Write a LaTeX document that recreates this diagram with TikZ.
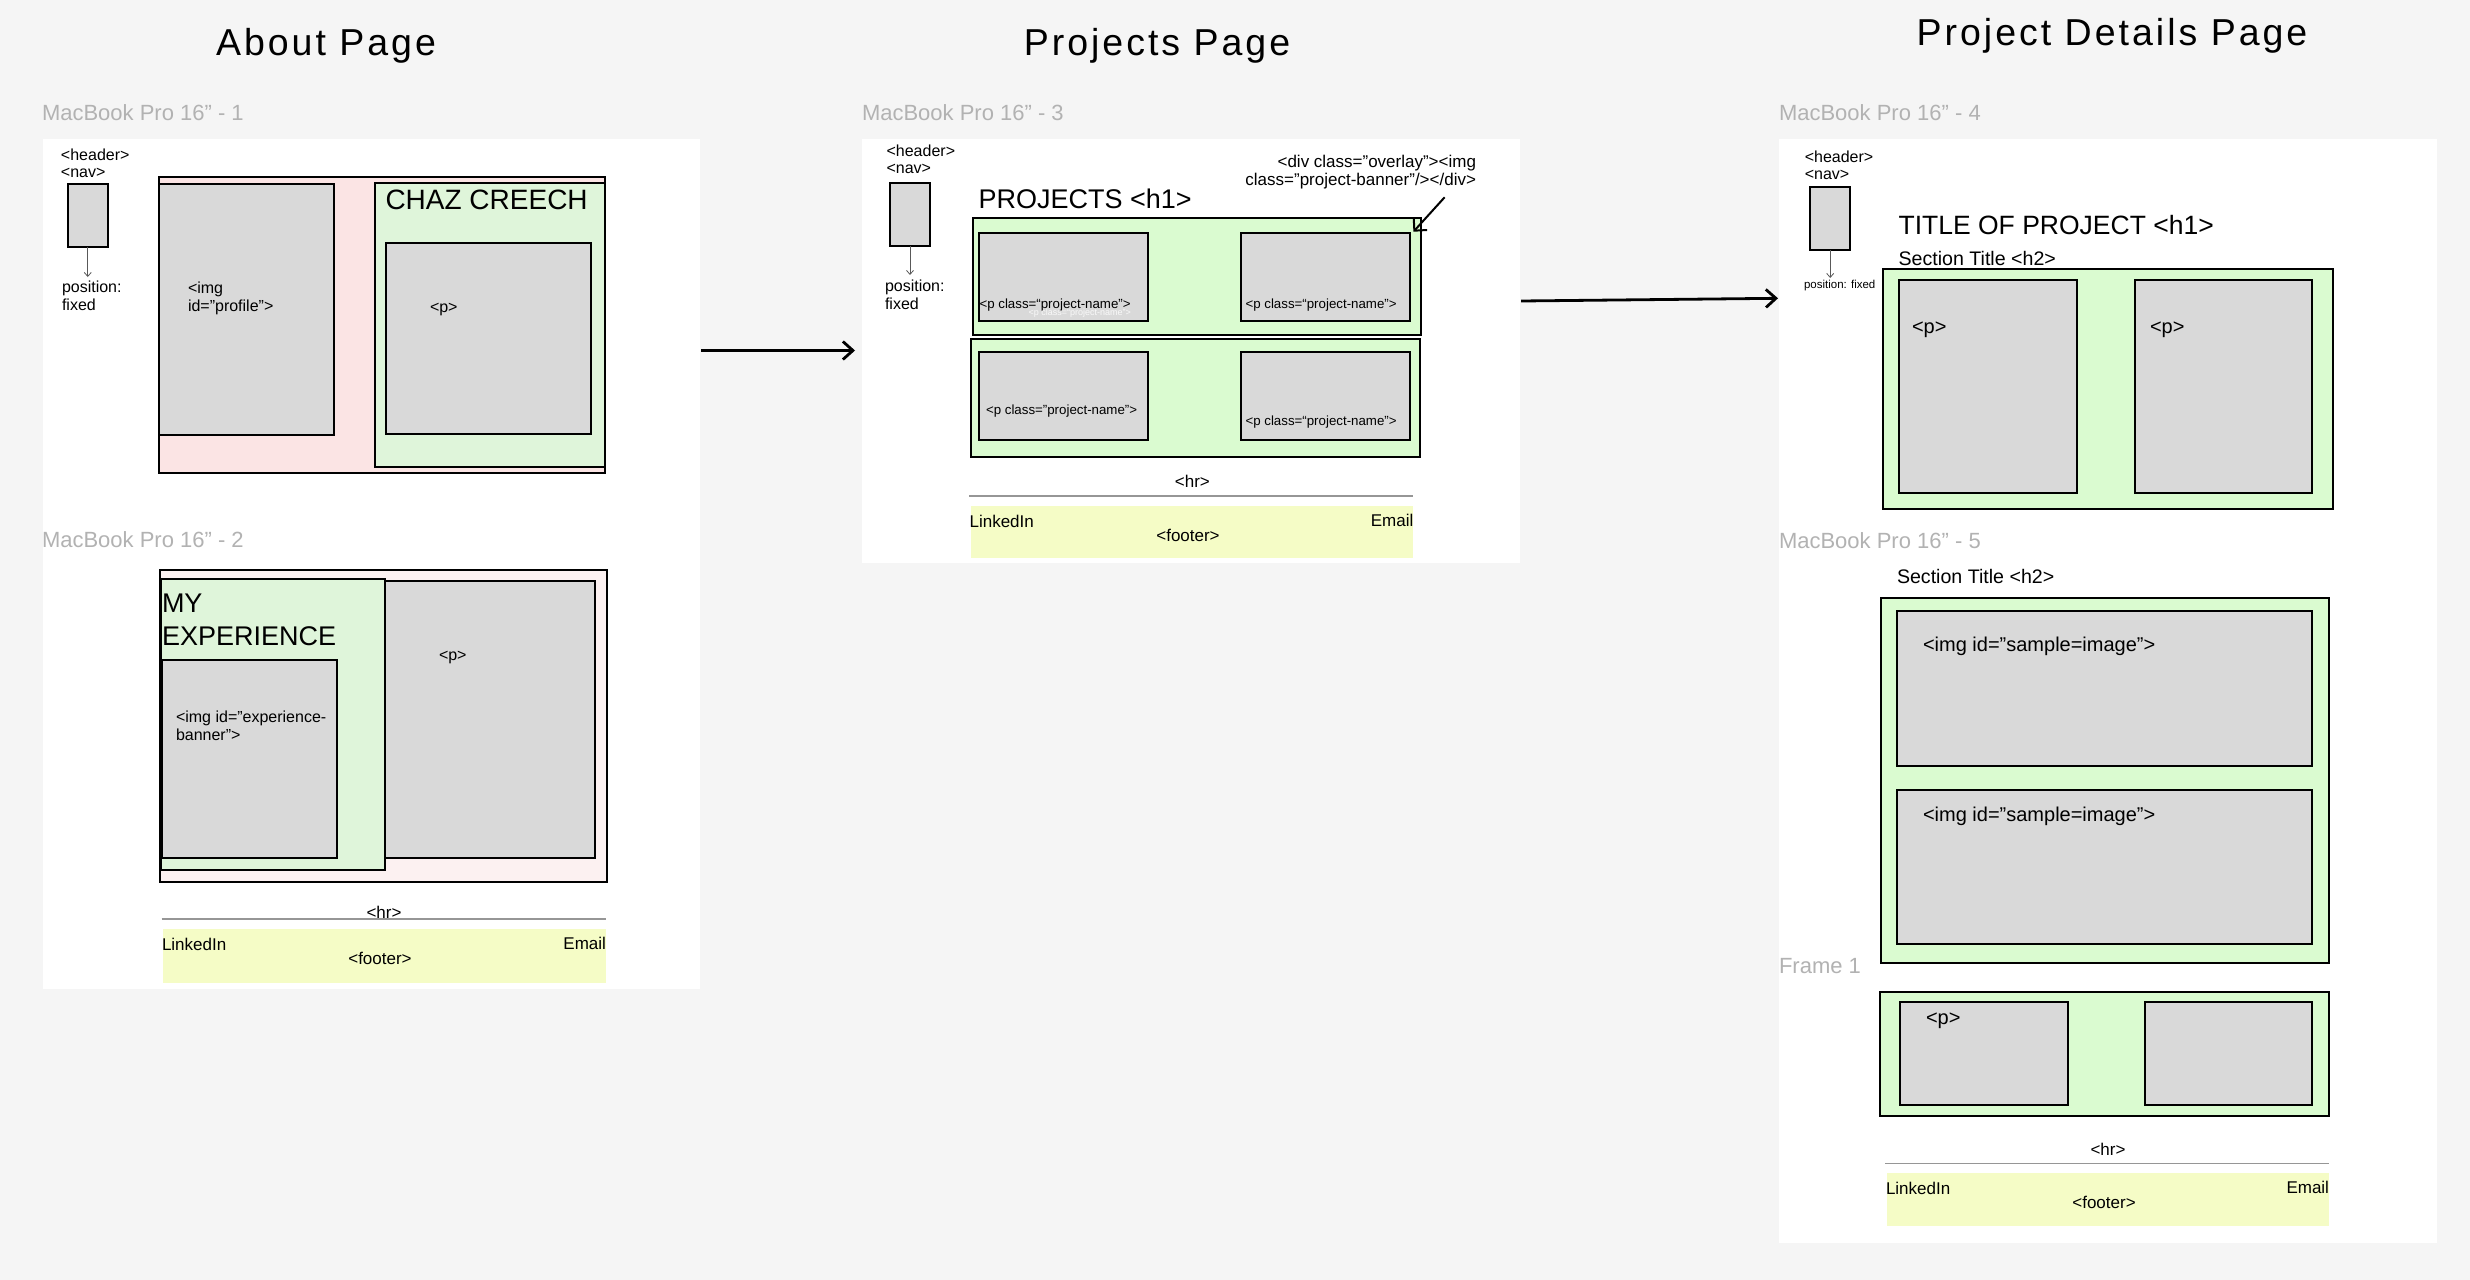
\documentclass[tikz,border=0pt]{standalone}
\usepackage{fontspec}
\setmainfont{Liberation Sans}
\newfontfamily\headfont[LetterSpace=8]{Liberation Sans}
\usetikzlibrary{arrows.meta,fit}

\definecolor{canvas}{RGB}{245,245,245}
\definecolor{boxgray}{RGB}{217,217,217}
\definecolor{pinkA}{RGB}{251,228,228}
\definecolor{pinkB}{RGB}{252,241,241}
\definecolor{greenA}{RGB}{223,245,218}
\definecolor{greenB}{RGB}{218,251,208}
\definecolor{footyellow}{RGB}{245,252,198}
\definecolor{framelabel}{RGB}{178,178,178}
\definecolor{rulegray}{RGB}{150,150,150}

\begin{document}
\begin{tikzpicture}[x=0.5pt,y=-0.5pt,
  every node/.style={inner sep=0pt,outer sep=0pt},
  page/.style={fill=white,draw=none},
  tile/.style={draw=black,line width=1pt,fill=boxgray},
  wrapA/.style={draw=black,line width=1pt,fill=pinkA},
  wrapB/.style={draw=black,line width=1pt,fill=pinkB},
  sectA/.style={draw=black,line width=1pt,fill=greenA},
  sectB/.style={draw=black,line width=1pt,fill=greenB},
  footbar/.style={fill=footyellow,draw=none},
  hrule/.style={draw=rulegray,line width=0.6pt},
  flabel/.style={anchor=west,text=framelabel,font=\fontsize{11}{13}\selectfont},
  pagetitle/.style={anchor=base,font=\headfont\fontsize{18.75}{22}\selectfont},
  txt/.style={anchor=west,font=\fontsize{8}{9}\selectfont},
  foot/.style={font=\fontsize{8.5}{10}\selectfont},
  heading/.style={anchor=west,font=\fontsize{13.5}{16}\selectfont},
  subhead/.style={anchor=west,font=\fontsize{9.8}{12}\selectfont},
  pname/.style={anchor=west,font=\fontsize{6.65}{8}\selectfont},
  navarrow/.style={draw=black!65,line width=0.4pt,-{Straight Barb[length=2pt,width=3.5pt]}},
  flow/.style={line width=1.4pt,-{Straight Barb[length=5pt,width=9pt]}},
  pointer/.style={line width=1pt,-{Straight Barb[length=4.5pt,width=9pt]}}]

% canvas
\fill[canvas] (0,0) rectangle (2470,1280);

% page titles
\node[pagetitle] (tAbout) at (326,55) {About Page};
\node[pagetitle] (tProjects) at (1157,55) {Projects Page};
\node[pagetitle] (tDetails) at (2112,45) {Project Details Page};

% artboards
\node[page,fit={(42.5,138.5)(699.5,989)}] (pgAbout) {};
\node[page,fit={(862,138.5)(1520,562.5)}] (pgProjects) {};
\node[page,fit={(1779,138.5)(2436.5,1243)}] (pgDetails) {};

\node[flabel] (lb1) at (42,113) {MacBook Pro 16" - 1};
\node[flabel] (lb2) at (42,540) {MacBook Pro 16" - 2};
\node[flabel] (lb3) at (862,113) {MacBook Pro 16" - 3};
\node[flabel] (lb4) at (1779,113) {MacBook Pro 16" - 4};
\node[flabel] (lb5) at (1779,540.5) {MacBook Pro 16" - 5};
\node[flabel] (lb6) at (1779,966) {Frame 1};

% ---------- About page, frame 1 ----------
\node[txt] (hdrA) at (61,155) {<header>};
\node[txt] (navtA) at (61,173) {<nav>};
\node[tile,fit={(67.5,184)(108,247)}] (navA) {};
\coordinate (navAend) at (87.75,277);
\draw[navarrow] (navA.south) -- (navAend);
\node[txt,align=left] (posA) at (62,296) {position:\\fixed};

\node[wrapA,fit={(158.5,176.5)(605,473)}] (heroWrap) {};
\node[tile,fit={(159.3,184.3)(334,434.5)}] (profile) {};
\node[sectA,fit={(374.5,183)(605,466.5)}] (introSect) {};
\node[tile,fit={(385.7,243)(590.5,434)}] (introP) {};
\node[anchor=west,font=\fontsize{14}{16}\selectfont] (chaz) at (385.5,200) {CHAZ CREECH};
\node[txt,align=left] (profileTxt) at (188,298) {<img\\id=”profile”>};
\node[txt] (introPTxt) at (430,309) {<p>};

% ---------- About page, frame 2 ----------
\node[wrapB,fit={(159.8,570)(607,882)}] (expWrap) {};
\node[tile,fit={(383.5,580.5)(595,858)}] (expP) {};
\node[sectA,fit={(160.7,578.7)(385,869.5)}] (expSect) {};
\node[tile,fit={(162,660)(336.6,858)}] (expImg) {};
\node[heading,font=\fontsize{13.5}{16}\selectfont] (myTxt) at (162,603.5) {MY};
\node[heading,font=\fontsize{13.5}{16}\selectfont] (expTxt) at (162,636) {EXPERIENCE};
\node[txt,align=left] (expImgTxt) at (176,726) {<img id=”experience-\\banner”>};
\node[txt] (expPTxt) at (439,657) {<p>};

\node[foot] (hrA) at (384,912) {<hr>};
\draw[hrule] (161.6,919) -- (606,919);
\node[footbar,fit={(162.5,929)(606,982.7)}] (footA) {};
\node[foot,anchor=west] (liA) at (162,944) {LinkedIn};
\node[foot,anchor=east] (emA) at (606,943) {Email};
\node[foot] (ftA) at (380,958) {<footer>};

% ---------- Projects page ----------
\node[txt] (hdrB) at (886.6,151) {<header>};
\node[txt] (navtB) at (886.6,169) {<nav>};
\node[tile,fit={(890,182.7)(930,246)}] (navB) {};
\coordinate (navBend) at (910,275);
\draw[navarrow] (navB.south) -- (navBend);
\node[txt,align=left] (posB) at (885,294.5) {position:\\fixed};

\node[heading,font=\fontsize{13.5}{16}\selectfont] (projH) at (978.6,199) {PROJECTS <h1>};
\node[anchor=east,align=right,font=\fontsize{8.5}{9}\selectfont] (overlayNote) at (1476,171.7)
  {<div class="overlay"><img\\class="project-banner"/></div>};

\node[sectB,fit={(972.8,218.3)(1421.4,335)}] (rowOne) {};
\node[tile,fit={(978.6,232.7)(1148.2,320.7)}] (card1) {};
\node[tile,fit={(1241,232.7)(1410,320.7)}] (card2) {};
\node[sectB,fit={(970.5,339)(1420,456.7)}] (rowTwo) {};
\node[tile,fit={(978.6,351.7)(1147.8,440)}] (card3) {};
\node[tile,fit={(1241,351.7)(1410,440)}] (card4) {};

\node[pname] (c1t) at (979.5,305) {<p class=“project-name”>};
\node[anchor=west,text=white,opacity=0.85,font=\fontsize{4.5}{5}\selectfont] (c1g) at (1028.6,313) {<p class=“project-name”>};
\node[pname] (c2t) at (1245.5,305) {<p class=“project-name”>};
\node[pname] (c3t) at (986,411) {<p class="project-name">};
\node[pname] (c4t) at (1245.5,422) {<p class=“project-name”>};

\coordinate (noteFrom) at (1444.6,197.3);
\coordinate (noteTo) at (1413.4,231.7);
\draw[pointer] (noteFrom) -- (noteTo);

\node[foot] (hrB) at (1192.4,481.7) {<hr>};
\draw[hrule] (969,496) -- (1413,496);
\node[footbar,fit={(970.5,506)(1413.4,558.3)}] (footB) {};
\node[foot,anchor=west] (liB) at (969.6,521) {LinkedIn};
\node[foot,anchor=east] (emB) at (1413.4,520) {Email};
\node[foot] (ftB) at (1188,535) {<footer>};

% ---------- Project details page ----------
\node[txt] (hdrC) at (1804.8,157) {<header>};
\node[txt] (navtC) at (1804.8,175) {<nav>};
\node[tile,fit={(1810,186.7)(1850.4,250)}] (navC) {};
\coordinate (navCend) at (1830.2,278);
\draw[navarrow] (navC.south) -- (navCend);
\node[anchor=west,font=\fontsize{5.75}{7}\selectfont] (posC) at (1804,286) {position: fixed};

\node[heading,font=\fontsize{13.25}{16}\selectfont] (titleH) at (1898.6,225.3) {TITLE OF PROJECT <h1>};
\node[subhead] (secH1) at (1898.6,258.3) {Section Title <h2>};
\node[sectB,fit={(1883,269)(2332.5,509)}] (detSect1) {};
\node[tile,fit={(1898.6,280)(2076.7,493.3)}] (detP1) {};
\node[tile,fit={(2134.7,280)(2312.4,493.3)}] (detP2) {};
\node[anchor=west,font=\fontsize{10}{12}\selectfont] (detP1t) at (1912,329.3) {<p>};
\node[anchor=west,font=\fontsize{10}{12}\selectfont] (detP2t) at (2150,330) {<p>};

\node[subhead] (secH2) at (1897,576) {Section Title <h2>};
\node[sectB,fit={(1880.7,597.7)(2329.4,963.3)}] (detSect2) {};
\node[tile,fit={(1897,611)(2312.4,766)}] (sample1) {};
\node[tile,fit={(1897,790)(2312.4,944.3)}] (sample2) {};
\node[anchor=west,font=\fontsize{10}{12}\selectfont] (sample1t) at (1923,646.7) {<img id=”sample=image”>};
\node[anchor=west,font=\fontsize{10}{12}\selectfont] (sample2t) at (1923,816) {<img id=”sample=image”>};

\node[sectB,fit={(1879.8,991.7)(2329,1115.7)}] (detSect3) {};
\node[tile,fit={(1900.4,1001.7)(2068.2,1105.3)}] (detP3) {};
\node[tile,fit={(2145,1001.7)(2312.4,1105.3)}] (detP4) {};
\node[anchor=west,font=\fontsize{10}{12}\selectfont] (detP3t) at (1926,1020.7) {<p>};

\node[foot] (hrC) at (2108,1149) {<hr>};
\draw[hrule] (1885,1163.3) -- (2329,1163.3);
\node[footbar,fit={(1886.5,1173.3)(2329,1226)}] (footC) {};
\node[foot,anchor=west] (liC) at (1886,1188.3) {LinkedIn};
\node[foot,anchor=east] (emC) at (2329,1187.3) {Email};
\node[foot] (ftC) at (2104,1202.3) {<footer>};

% ---------- page flow ----------
\coordinate (flowAs) at (701,350.5);
\coordinate (flowAe) at (855,350.5);
\draw[flow] (flowAs) -- (flowAe);
\coordinate (flowBs) at (1521,301);
\coordinate (flowBe) at (1778,298.3);
\draw[flow] (flowBs) -- (flowBe);

\end{tikzpicture}
\end{document}
